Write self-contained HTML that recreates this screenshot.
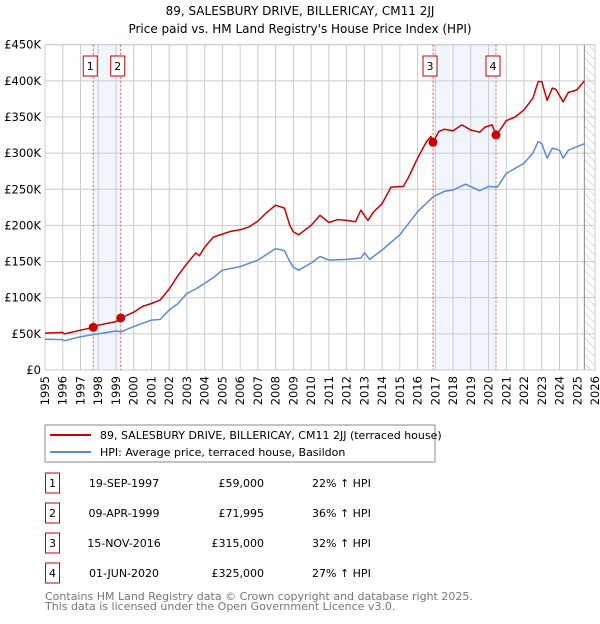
<!DOCTYPE html>
<html><head><meta charset="utf-8">
<style>
body{margin:0;background:#fff;width:600px;height:620px;overflow:hidden;font-family:"DejaVu Sans","Liberation Sans",sans-serif;}
svg text{font-family:"DejaVu Sans","Liberation Sans",sans-serif;}
</style></head>
<body>
<svg id="c" width="600" height="620" xmlns="http://www.w3.org/2000/svg">
<defs>
<pattern id="hatch" width="6" height="6" patternUnits="userSpaceOnUse" patternTransform="rotate(-45)">
<line x1="0" y1="0" x2="0" y2="6" stroke="#bbb" stroke-width="1"/>
</pattern>
</defs>
<text x="300" y="15" text-anchor="middle" font-size="12">89, SALESBURY DRIVE, BILLERICAY, CM11 2JJ</text>
<text x="300" y="33" text-anchor="middle" font-size="12">Price paid vs. HM Land Registry's House Price Index (HPI)</text>
<g id="plot"></g>
<rect x="45" y="425" width="390" height="37" fill="#fff" stroke="#888"/>
<line x1="50" y1="435" x2="91" y2="435" stroke="#cc0000" stroke-width="2"/>
<text x="100" y="439" font-size="11">89, SALESBURY DRIVE, BILLERICAY, CM11 2JJ (terraced house)</text>
<line x1="50" y1="452" x2="91" y2="452" stroke="#5b8bd0" stroke-width="2"/>
<text x="100" y="456" font-size="11">HPI: Average price, terraced house, Basildon</text>
<g id="table" font-size="11"></g>
<text x="45" y="600" font-size="11" fill="#777">Contains HM Land Registry data © Crown copyright and database right 2025.</text>
<text x="45" y="610" font-size="11" fill="#777">This data is licensed under the Open Government Licence v3.0.</text>
</svg>
<script>
const hpiYears=[1995,1996,1996.1,1997,1997.7,1998,1999,1999.3,2000,2001,2001.5,2002,2002.5,2003,2003.5,2004,2004.5,2005,2006,2007,2008,2008.5,2008.8,2009,2009.3,2010,2010.5,2011,2012,2012.8,2013,2013.3,2014,2015,2016,2016.9,2017.5,2018,2018.7,2019.5,2020,2020.5,2021,2022,2022.5,2022.8,2023,2023.3,2023.6,2024,2024.2,2024.5,2025,2025.4];
const hpiValues=[42500,42000,40500,46000,49000,50000,54000,53000,60000,69000,70000,83000,92000,106000,112000,120000,128000,138000,143000,152000,168000,165000,150000,142000,138000,148000,157000,152000,153000,155000,162000,153000,166000,187000,219000,240000,247000,249000,257000,248000,254000,253000,272000,286000,300000,316000,313000,293000,307000,304000,293000,304000,309000,313000];
const propYears=[1995,1996,1996.1,1997,1997.72,1998,1999,1999.27,2000,2000.5,2001,2001.5,2002,2002.5,2003,2003.5,2003.7,2004,2004.5,2005,2005.5,2006,2006.5,2007,2007.5,2008,2008.5,2008.8,2009,2009.3,2010,2010.5,2011,2011.5,2012,2012.5,2012.8,2013.2,2013.5,2014,2014.5,2015.2,2015.5,2016,2016.5,2016.75,2016.87,2017.2,2017.5,2018,2018.5,2019,2019.5,2019.8,2020.2,2020.42,2020.7,2021,2021.5,2022,2022.5,2022.8,2023,2023.3,2023.6,2023.8,2024.2,2024.5,2024.8,2025,2025.4];
const propValues=[51000,52000,50000,55000,59000,62000,67000,72000,80000,88000,92000,97000,112000,131000,147000,162000,158000,170000,184000,188000,192000,194000,198000,206000,218000,228000,224000,200000,191000,187000,200000,214000,204000,208000,207000,205000,221000,207000,218000,230000,253000,254000,267000,293000,316000,323000,315000,330000,333000,331000,339000,332000,329000,336000,339000,325000,334000,345000,350000,360000,376000,399000,399000,373000,390000,388000,371000,384000,386000,388000,400000];
const saleLabels=["1","2","3","4"];
const saleYears=[1997.72,1999.27,2016.87,2020.42];
const salePrices=[59000,71995,315000,325000];
const saleDates=["19-SEP-1997","09-APR-1999","15-NOV-2016","01-JUN-2020"];
const salePriceText=["£59,000","£71,995","£315,000","£325,000"];
const saleHpiText=["22% ↑ HPI","36% ↑ HPI","32% ↑ HPI","27% ↑ HPI"];
const yTicks=[0,50000,100000,150000,200000,250000,300000,350000,400000,450000];
const yTickLabels=["£0","£50K","£100K","£150K","£200K","£250K","£300K","£350K","£400K","£450K"];
const xTicks=[1995,1996,1997,1998,1999,2000,2001,2002,2003,2004,2005,2006,2007,2008,2009,2010,2011,2012,2013,2014,2015,2016,2017,2018,2019,2020,2021,2022,2023,2024,2025,2026];

const L=45,R=595,T=44.7,B=370,Y0=1995,Y1=2026,VMAX=450000;
const xs=y=>L+(y-Y0)/(Y1-Y0)*(R-L);
const ys=v=>B-v/VMAX*(B-T);
const NS="http://www.w3.org/2000/svg";
const plot=document.getElementById('plot');
function mk(tag,attrs,parent){const e=document.createElementNS(NS,tag);for(const k in attrs)e.setAttribute(k,attrs[k]);(parent||plot).appendChild(e);return e;}

for(let i=0;i<4;i+=2){
  const b=mk('rect',{x:xs(saleYears[i]),y:T,width:xs(saleYears[i+1])-xs(saleYears[i]),height:B-T,fill:'#eef3fc',opacity:0.8});
  
  
}
const h=mk('rect',{x:xs(2025.4),y:T,width:R-xs(2025.4),height:B-T,fill:'url(#hatch)'});


yTicks.forEach((v,i)=>{
  const g=mk('line',{x1:L,x2:R,y1:ys(v),y2:ys(v),stroke:'#ccc','stroke-width':1});
  
  
  const t=mk('text',{x:L-4,y:ys(v)+4,'text-anchor':'end','font-size':11.5});
  t.textContent=yTickLabels[i];
  
  
});
xTicks.forEach(yr=>{
  const g=mk('line',{x1:xs(yr),x2:xs(yr),y1:T,y2:B,stroke:'#ccc','stroke-width':1});
  
  
  const t=mk('text',{x:0,y:0,'text-anchor':'end','font-size':11.5,transform:`translate(${xs(yr)+4},${B+6}) rotate(-90)`});
  t.textContent=yr;
  
  
});
const ln=mk('line',{x1:xs(2025.4),x2:xs(2025.4),y1:T,y2:B,stroke:'#888'});


const fr=mk('rect',{x:L,y:T,width:R-L,height:B-T,fill:'none',stroke:'#ccc'});


saleYears.forEach((yr,i)=>{
  const l=mk('line',{x1:xs(yr),x2:xs(yr),y1:T,y2:B,stroke:'#e55','stroke-width':1,'stroke-dasharray':'2,2'});
  
  
  const bx=mk('rect',{x:xs(yr)-10,y:56,width:14,height:20,fill:'#fff',stroke:'#cc0000'});
  
  
  const t=mk('text',{x:xs(yr)-3,y:70,'text-anchor':'middle','font-size':11});
  t.textContent=saleLabels[i];
  
  
});
function path(xsA,vs,color,name){
  const d=xsA.map((x,i)=>(i?'L':'M')+xs(x).toFixed(1)+','+ys(vs[i]).toFixed(1)).join('');
  const p=mk('path',{d:d,fill:'none',stroke:color,'stroke-width':1.5,'stroke-linejoin':'round'});
  
  
}
path(hpiYears,hpiValues,'#5b8bd0','hpi-line');
path(propYears,propValues,'#cc0000','property-price-line');
saleYears.forEach((yr,i)=>{
  const c=mk('circle',{cx:xs(yr),cy:ys(salePrices[i]),r:4.5,fill:'#cc0000'});
  
  
});
const tb=document.getElementById('table');
saleYears.forEach((yr,i)=>{
  const cy=483+i*30;
  const r=mk('rect',{x:45.5,y:cy-10,width:14,height:20,fill:'#fff',stroke:'#cc0000'},tb);
  
  
  const n=mk('text',{x:52.5,y:cy+4,'text-anchor':'middle'},tb);n.textContent=saleLabels[i];
  
  
  const d=mk('text',{x:124,y:cy+4,'text-anchor':'middle'},tb);d.textContent=saleDates[i];
  
  
  const p=mk('text',{x:264,y:cy+4,'text-anchor':'end'},tb);p.textContent=salePriceText[i];
  
  
  const hp=mk('text',{x:312,y:cy+4},tb);hp.textContent=saleHpiText[i];
  
  
});
</script>
</body></html>
